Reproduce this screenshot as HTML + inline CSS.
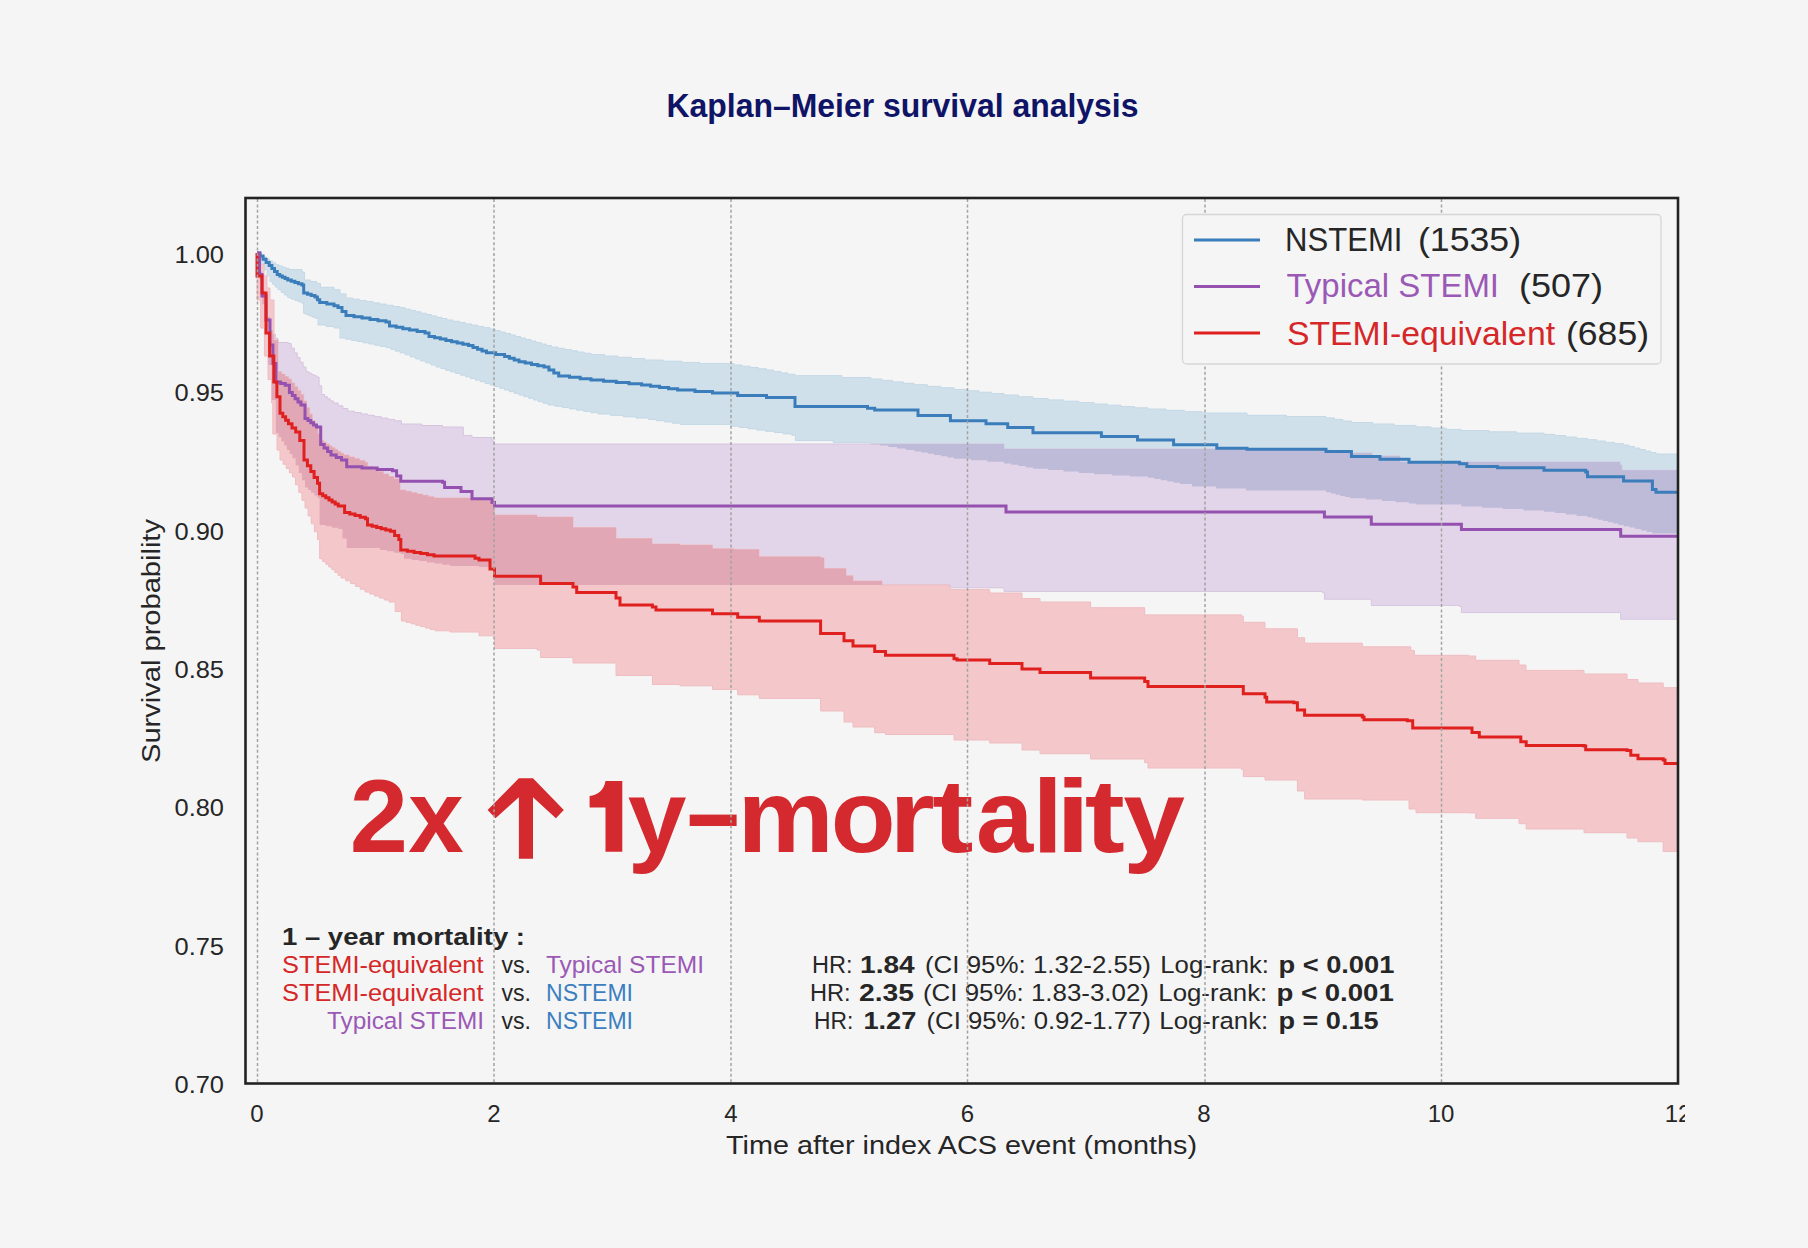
<!DOCTYPE html>
<html><head><meta charset="utf-8">
<style>
html,body{margin:0;padding:0;background:#f5f5f5;}
body{width:1808px;height:1248px;overflow:hidden;position:relative;}
svg{position:absolute;left:0;top:0;}
text{font-family:"Liberation Sans",sans-serif;}
</style></head>
<body>
<svg width="1808" height="1248" viewBox="0 0 1808 1248">
<defs>
<clipPath id="plot"><rect x="246" y="199" width="1432" height="884"/></clipPath>
<clipPath id="cpP"><path d="M257.0,253.0 259.5,253.0 259.5,271.5 262.0,271.5 262.0,290.0 264.7,290.0 264.7,303.3 267.3,303.3 267.3,316.7 270.0,316.7 270.0,330.0 272.7,330.0 272.7,334.2 275.3,334.2 275.3,338.3 278.0,338.3 278.0,342.5 288.4,342.5 288.4,343.5 291.3,343.5 291.3,348.2 294.3,348.2 294.3,352.9 297.2,352.9 297.2,357.6 300.1,357.6 300.1,362.3 303.1,362.3 303.1,367.0 306.0,367.0 306.0,371.7 308.6,371.7 308.6,373.0 311.2,373.0 311.2,374.4 313.9,374.4 313.9,375.7 316.5,375.7 316.5,377.0 319.1,377.0 319.1,385.8 321.7,385.8 321.7,394.6 324.6,394.6 324.6,396.7 327.4,396.7 327.4,398.8 330.3,398.8 330.3,400.9 333.2,400.9 333.2,403.0 338.1,403.0 338.1,405.8 342.9,405.8 342.9,408.5 347.8,408.5 347.8,411.2 354.4,411.2 354.4,412.6 361.1,412.6 361.1,414.0 367.8,414.0 367.8,415.3 374.5,415.3 374.5,416.7 381.2,416.7 381.2,418.1 387.9,418.1 387.9,419.4 394.6,419.4 394.6,420.8 401.4,420.8 401.4,424.0 421.9,424.0 421.9,425.5 442.5,425.5 442.5,427.0 463.3,427.0 463.3,435.4 472.0,435.4 472.0,437.5 492.0,437.5 492.0,441.0 494.5,441.0 494.5,444.0 950.0,444.0 950.0,444.0 1004.0,444.0 1004.0,449.0 1250.0,449.0 1250.0,450.0 1330.0,450.0 1330.0,453.0 1372.0,453.0 1372.0,456.0 1400.0,456.0 1400.0,462.0 1620.0,462.0 1620.0,465.0 1621.8,465.0 1621.8,470.3 1677.6,470.3 1677.6,470.3 L1677.6,619.2 1677.6,619.2 1620.7,619.2 1620.7,612.7 1620.0,612.7 1620.0,612.6 1461.4,612.6 1461.4,606.4 1459.6,606.4 1459.6,605.4 1371.3,605.4 1371.3,600.0 1371.3,600.0 1371.3,599.2 1324.4,599.2 1324.4,592.7 1322.6,592.7 1322.6,591.4 1004.0,591.4 1004.0,587.8 950.0,587.8 950.0,585.0 494.5,585.0 494.5,567.0 479.0,567.0 479.0,566.0 450.0,566.0 450.0,564.8 442.3,564.8 442.3,563.6 434.7,563.6 434.7,562.4 427.0,562.4 427.0,561.1 419.3,561.1 419.3,559.9 411.7,559.9 411.7,558.7 404.0,558.7 404.0,554.0 400.8,554.0 400.8,552.7 393.9,552.7 393.9,551.3 386.9,551.3 386.9,550.0 380.0,550.0 380.0,548.0 346.7,548.0 346.7,538.5 342.5,538.5 342.5,529.0 338.3,529.0 338.3,527.7 332.1,527.7 332.1,526.3 325.8,526.3 325.8,525.0 319.6,525.0 319.6,498.0 317.5,498.0 317.5,495.4 314.4,495.4 314.4,492.8 311.2,492.8 311.2,490.1 308.1,490.1 308.1,487.5 305.0,487.5 305.0,480.2 301.9,480.2 301.9,472.9 298.8,472.9 298.8,465.6 295.6,465.6 295.6,458.3 292.5,458.3 292.5,454.1 289.7,454.1 289.7,449.9 286.9,449.9 286.9,445.6 284.1,445.6 284.1,441.4 281.4,441.4 281.4,437.2 278.6,437.2 278.6,433.0 275.8,433.0 275.8,400.0 271.7,400.0 271.7,365.0 268.4,365.0 268.4,330.0 265.0,330.0 265.0,304.3 262.3,304.3 262.3,278.7 259.7,278.7 259.7,253.0 257.0,253.0 Z"/></clipPath>
<clipPath id="fig"><rect x="0" y="0" width="1685" height="1248"/></clipPath>
</defs>
<rect x="0" y="0" width="1808" height="1248" fill="#f5f5f5"/>
<!-- title -->
<text x="666.5" y="116.8" font-size="32.5" font-weight="bold" fill="#0f1466" textLength="472" lengthAdjust="spacingAndGlyphs">Kaplan–Meier survival analysis</text>

<g clip-path="url(#plot)">
<path id="bb" d="M257.0,253.0 260.1,253.0 260.1,255.0 263.2,255.0 263.2,256.9 266.3,256.9 266.3,258.9 269.4,258.9 269.4,260.9 272.5,260.9 272.5,262.8 275.6,262.8 275.6,264.8 279.0,264.8 279.0,266.0 282.5,266.0 282.5,267.2 285.9,267.2 285.9,268.4 289.3,268.4 289.3,269.6 302.0,269.6 302.0,272.0 304.5,272.0 304.5,280.0 310.5,280.0 310.5,281.6 316.5,281.6 316.5,283.3 320.5,283.3 320.5,287.3 334.0,287.3 334.0,289.7 340.0,289.7 340.0,293.9 346.0,293.9 346.0,298.0 352.8,298.0 352.8,299.2 359.5,299.2 359.5,300.4 366.2,300.4 366.2,301.6 373.0,301.6 373.0,302.9 379.8,302.9 379.8,304.1 386.5,304.1 386.5,305.3 393.2,305.3 393.2,306.5 400.0,306.5 400.0,307.7 405.2,307.7 405.2,309.1 410.4,309.1 410.4,310.4 415.7,310.4 415.7,311.8 420.9,311.8 420.9,313.2 426.1,313.2 426.1,314.5 431.3,314.5 431.3,315.9 436.6,315.9 436.6,317.3 441.8,317.3 441.8,318.6 447.0,318.6 447.0,320.0 453.1,320.0 453.1,321.3 459.3,321.3 459.3,322.6 465.4,322.6 465.4,323.9 471.6,323.9 471.6,325.1 477.7,325.1 477.7,326.4 483.9,326.4 483.9,327.7 490.0,327.7 490.0,329.0 495.1,329.0 495.1,330.5 500.2,330.5 500.2,332.0 505.4,332.0 505.4,333.5 510.5,333.5 510.5,335.0 515.6,335.0 515.6,336.5 520.7,336.5 520.7,338.0 525.8,338.0 525.8,339.5 530.9,339.5 530.9,341.0 536.0,341.0 536.0,342.5 541.2,342.5 541.2,344.0 546.3,344.0 546.3,345.5 551.4,345.5 551.4,347.0 558.0,347.0 558.0,348.3 564.6,348.3 564.6,349.5 571.2,349.5 571.2,350.8 577.8,350.8 577.8,352.1 584.4,352.1 584.4,353.3 591.0,353.3 591.0,354.6 604.5,354.6 604.5,356.0 618.0,356.0 618.0,357.3 631.5,357.3 631.5,358.6 645.0,358.6 645.0,360.0 663.3,360.0 663.3,361.2 681.7,361.2 681.7,362.4 700.0,362.4 700.0,363.6 734.0,363.6 734.0,365.0 742.1,365.0 742.1,366.2 750.2,366.2 750.2,367.5 758.4,367.5 758.4,368.8 766.5,368.8 766.5,370.0 773.6,370.0 773.6,371.4 780.8,371.4 780.8,372.9 787.9,372.9 787.9,374.3 795.0,374.3 795.0,375.7 842.0,375.7 842.0,377.5 871.0,377.5 871.0,379.0 881.8,379.0 881.8,380.4 892.5,380.4 892.5,381.9 903.2,381.9 903.2,383.3 914.0,383.3 914.0,384.7 927.3,384.7 927.3,386.3 940.7,386.3 940.7,387.8 954.0,387.8 954.0,389.4 966.5,389.4 966.5,390.8 979.0,390.8 979.0,392.2 991.5,392.2 991.5,393.6 1004.0,393.6 1004.0,395.0 1018.5,395.0 1018.5,396.8 1033.0,396.8 1033.0,398.5 1048.2,398.5 1048.2,399.9 1063.5,399.9 1063.5,401.2 1078.8,401.2 1078.8,402.6 1094.0,402.6 1094.0,404.0 1107.5,404.0 1107.5,405.2 1121.0,405.2 1121.0,406.5 1134.5,406.5 1134.5,407.8 1148.0,407.8 1148.0,409.0 1166.1,409.0 1166.1,410.3 1184.3,410.3 1184.3,411.7 1202.4,411.7 1202.4,413.0 1247.0,413.0 1247.0,415.3 1286.5,415.3 1286.5,416.6 1326.0,416.6 1326.0,417.9 1334.5,417.9 1334.5,419.4 1342.9,419.4 1342.9,421.0 1351.4,421.0 1351.4,422.5 1372.9,422.5 1372.9,424.0 1394.5,424.0 1394.5,425.4 1416.0,425.4 1416.0,426.9 1431.1,426.9 1431.1,428.1 1446.2,428.1 1446.2,429.4 1461.3,429.4 1461.3,430.6 1488.9,430.6 1488.9,431.8 1516.4,431.8 1516.4,433.1 1544.0,433.1 1544.0,434.3 1554.9,434.3 1554.9,435.6 1565.8,435.6 1565.8,437.0 1576.6,437.0 1576.6,438.4 1587.5,438.4 1587.5,439.7 1596.5,439.7 1596.5,441.0 1605.5,441.0 1605.5,442.4 1614.6,442.4 1614.6,443.7 1623.6,443.7 1623.6,445.0 1629.0,445.0 1629.0,446.5 1634.4,446.5 1634.4,448.0 1639.8,448.0 1639.8,449.5 1645.2,449.5 1645.2,451.0 1650.6,451.0 1650.6,452.5 1656.0,452.5 1656.0,454.0 1677.6,454.0 1677.6,454.8 L1677.6,534.0 1677.6,533.4 1652.4,533.4 1652.4,532.0 1646.6,532.0 1646.6,530.5 1640.9,530.5 1640.9,529.1 1635.1,529.1 1635.1,527.6 1629.4,527.6 1629.4,526.2 1623.6,526.2 1623.6,524.9 1618.4,524.9 1618.4,523.6 1613.3,523.6 1613.3,522.3 1608.1,522.3 1608.1,521.1 1603.0,521.1 1603.0,519.8 1597.8,519.8 1597.8,518.5 1592.7,518.5 1592.7,517.2 1587.5,517.2 1587.5,515.9 1576.6,515.9 1576.6,514.5 1565.8,514.5 1565.8,513.1 1554.9,513.1 1554.9,511.8 1544.0,511.8 1544.0,510.4 1523.3,510.4 1523.3,509.1 1502.7,509.1 1502.7,507.8 1482.0,507.8 1482.0,506.4 1461.3,506.4 1461.3,504.4 1416.0,504.4 1416.0,503.6 1409.0,503.6 1409.0,502.3 1395.5,502.3 1395.5,501.0 1382.0,501.0 1382.0,499.6 1366.0,499.6 1366.0,498.3 1350.0,498.3 1350.0,497.1 1345.2,497.1 1345.2,495.9 1340.4,495.9 1340.4,494.7 1335.6,494.7 1335.6,493.5 1330.8,493.5 1330.8,492.3 1326.0,492.3 1326.0,490.4 1246.0,490.4 1246.0,488.4 1216.0,488.4 1216.0,486.4 1192.0,486.4 1192.0,484.0 1180.0,484.0 1180.0,482.8 1173.6,482.8 1173.6,481.5 1167.2,481.5 1167.2,480.3 1160.8,480.3 1160.8,479.0 1154.4,479.0 1154.4,477.8 1148.0,477.8 1148.0,476.6 1130.0,476.6 1130.0,475.4 1112.0,475.4 1112.0,474.2 1094.0,474.2 1094.0,472.9 1078.8,472.9 1078.8,471.5 1063.5,471.5 1063.5,470.1 1048.2,470.1 1048.2,468.8 1033.0,468.8 1033.0,467.4 1025.8,467.4 1025.8,466.1 1018.5,466.1 1018.5,464.8 1011.2,464.8 1011.2,463.4 1004.0,463.4 1004.0,461.8 987.3,461.8 987.3,460.3 970.7,460.3 970.7,458.7 954.0,458.7 954.0,457.5 947.4,457.5 947.4,456.3 940.8,456.3 940.8,455.0 934.2,455.0 934.2,453.8 927.6,453.8 927.6,452.6 921.0,452.6 921.0,451.4 914.4,451.4 914.4,450.0 905.7,450.0 905.7,448.5 897.0,448.5 897.0,447.1 888.4,447.1 888.4,445.6 879.7,445.6 879.7,444.2 871.0,444.2 871.0,442.4 833.2,442.4 833.2,440.6 795.4,440.6 795.4,435.2 791.8,435.2 791.8,433.9 783.0,433.9 783.0,432.6 774.3,432.6 774.3,431.3 765.5,431.3 765.5,430.1 756.8,430.1 756.8,428.8 748.0,428.8 748.0,427.5 739.3,427.5 739.3,426.2 730.5,426.2 730.5,424.4 680.0,424.4 680.0,423.2 672.2,423.2 672.2,421.9 664.4,421.9 664.4,420.7 656.6,420.7 656.6,419.5 648.8,419.5 648.8,418.1 636.1,418.1 636.1,416.8 623.4,416.8 623.4,415.4 610.7,415.4 610.7,414.0 598.0,414.0 598.0,412.7 590.9,412.7 590.9,411.4 583.7,411.4 583.7,410.1 576.6,410.1 576.6,408.9 569.4,408.9 569.4,407.6 562.3,407.6 562.3,406.3 555.1,406.3 555.1,405.0 548.0,405.0 548.0,403.3 543.2,403.3 543.2,401.7 538.3,401.7 538.3,400.0 533.5,400.0 533.5,398.3 528.7,398.3 528.7,396.7 523.8,396.7 523.8,395.0 519.0,395.0 519.0,393.3 514.2,393.3 514.2,391.7 509.3,391.7 509.3,390.0 504.5,390.0 504.5,388.3 499.7,388.3 499.7,386.7 494.8,386.7 494.8,385.0 490.0,385.0 490.0,383.4 485.1,383.4 485.1,381.7 480.2,381.7 480.2,380.1 475.3,380.1 475.3,378.5 470.4,378.5 470.4,376.8 465.5,376.8 465.5,375.2 460.5,375.2 460.5,373.5 455.6,373.5 455.6,371.9 450.7,371.9 450.7,370.3 445.8,370.3 445.8,368.6 440.9,368.6 440.9,367.0 436.0,367.0 436.0,365.0 430.9,365.0 430.9,362.9 425.7,362.9 425.7,360.9 420.6,360.9 420.6,358.9 415.4,358.9 415.4,356.9 410.3,356.9 410.3,354.8 405.1,354.8 405.1,352.8 400.0,352.8 400.0,351.1 395.3,351.1 395.3,349.3 390.7,349.3 390.7,347.6 386.0,347.6 386.0,346.4 380.2,346.4 380.2,345.2 374.5,345.2 374.5,344.0 368.8,344.0 368.8,342.8 363.0,342.8 363.0,341.6 357.2,341.6 357.2,340.4 351.5,340.4 351.5,339.2 345.8,339.2 345.8,338.0 340.0,338.0 340.0,328.0 334.0,328.0 334.0,326.5 326.0,326.5 326.0,325.0 318.0,325.0 318.0,318.5 315.7,318.5 315.7,317.3 312.7,317.3 312.7,316.1 309.7,316.1 309.7,314.9 306.7,314.9 306.7,313.7 303.7,313.7 303.7,303.3 302.0,303.3 302.0,301.9 298.4,301.9 298.4,300.5 294.9,300.5 294.9,299.1 291.3,299.1 291.3,297.7 287.7,297.7 287.7,295.0 284.5,295.0 284.5,292.4 281.2,292.4 281.2,289.7 278.0,289.7 278.0,287.0 275.3,287.0 275.3,284.4 272.7,284.4 272.7,281.7 270.0,281.7 270.0,275.8 267.1,275.8 267.1,269.9 264.1,269.9 264.1,264.0 261.2,264.0 261.2,253.0 257.0,253.0 Z" fill="#cfe0ea" stroke="#c4d8e6" stroke-width="1"/>
<path id="bp" d="M257.0,253.0 259.5,253.0 259.5,271.5 262.0,271.5 262.0,290.0 264.7,290.0 264.7,303.3 267.3,303.3 267.3,316.7 270.0,316.7 270.0,330.0 272.7,330.0 272.7,334.2 275.3,334.2 275.3,338.3 278.0,338.3 278.0,342.5 288.4,342.5 288.4,343.5 291.3,343.5 291.3,348.2 294.3,348.2 294.3,352.9 297.2,352.9 297.2,357.6 300.1,357.6 300.1,362.3 303.1,362.3 303.1,367.0 306.0,367.0 306.0,371.7 308.6,371.7 308.6,373.0 311.2,373.0 311.2,374.4 313.9,374.4 313.9,375.7 316.5,375.7 316.5,377.0 319.1,377.0 319.1,385.8 321.7,385.8 321.7,394.6 324.6,394.6 324.6,396.7 327.4,396.7 327.4,398.8 330.3,398.8 330.3,400.9 333.2,400.9 333.2,403.0 338.1,403.0 338.1,405.8 342.9,405.8 342.9,408.5 347.8,408.5 347.8,411.2 354.4,411.2 354.4,412.6 361.1,412.6 361.1,414.0 367.8,414.0 367.8,415.3 374.5,415.3 374.5,416.7 381.2,416.7 381.2,418.1 387.9,418.1 387.9,419.4 394.6,419.4 394.6,420.8 401.4,420.8 401.4,424.0 421.9,424.0 421.9,425.5 442.5,425.5 442.5,427.0 463.3,427.0 463.3,435.4 472.0,435.4 472.0,437.5 492.0,437.5 492.0,441.0 494.5,441.0 494.5,444.0 950.0,444.0 950.0,444.0 1004.0,444.0 1004.0,449.0 1250.0,449.0 1250.0,450.0 1330.0,450.0 1330.0,453.0 1372.0,453.0 1372.0,456.0 1400.0,456.0 1400.0,462.0 1620.0,462.0 1620.0,465.0 1621.8,465.0 1621.8,470.3 1677.6,470.3 1677.6,470.3 L1677.6,619.2 1677.6,619.2 1620.7,619.2 1620.7,612.7 1620.0,612.7 1620.0,612.6 1461.4,612.6 1461.4,606.4 1459.6,606.4 1459.6,605.4 1371.3,605.4 1371.3,600.0 1371.3,600.0 1371.3,599.2 1324.4,599.2 1324.4,592.7 1322.6,592.7 1322.6,591.4 1004.0,591.4 1004.0,587.8 950.0,587.8 950.0,585.0 494.5,585.0 494.5,567.0 479.0,567.0 479.0,566.0 450.0,566.0 450.0,564.8 442.3,564.8 442.3,563.6 434.7,563.6 434.7,562.4 427.0,562.4 427.0,561.1 419.3,561.1 419.3,559.9 411.7,559.9 411.7,558.7 404.0,558.7 404.0,554.0 400.8,554.0 400.8,552.7 393.9,552.7 393.9,551.3 386.9,551.3 386.9,550.0 380.0,550.0 380.0,548.0 346.7,548.0 346.7,538.5 342.5,538.5 342.5,529.0 338.3,529.0 338.3,527.7 332.1,527.7 332.1,526.3 325.8,526.3 325.8,525.0 319.6,525.0 319.6,498.0 317.5,498.0 317.5,495.4 314.4,495.4 314.4,492.8 311.2,492.8 311.2,490.1 308.1,490.1 308.1,487.5 305.0,487.5 305.0,480.2 301.9,480.2 301.9,472.9 298.8,472.9 298.8,465.6 295.6,465.6 295.6,458.3 292.5,458.3 292.5,454.1 289.7,454.1 289.7,449.9 286.9,449.9 286.9,445.6 284.1,445.6 284.1,441.4 281.4,441.4 281.4,437.2 278.6,437.2 278.6,433.0 275.8,433.0 275.8,400.0 271.7,400.0 271.7,365.0 268.4,365.0 268.4,330.0 265.0,330.0 265.0,304.3 262.3,304.3 262.3,278.7 259.7,278.7 259.7,253.0 257.0,253.0 Z" fill="#e3d5e9" stroke="#d6c4df" stroke-width="1"/>
<path id="br" d="M257.0,253.0 260.5,253.0 260.5,264.5 264.0,264.5 264.0,276.0 267.0,276.0 267.0,288.0 270.0,288.0 270.0,300.0 274.0,300.0 274.0,340.0 278.0,340.0 278.0,371.7 281.5,371.7 281.5,374.1 284.9,374.1 284.9,376.6 288.4,376.6 288.4,379.0 291.5,379.0 291.5,382.9 294.6,382.9 294.6,386.8 297.8,386.8 297.8,390.7 300.9,390.7 300.9,394.6 303.7,394.6 303.7,401.1 306.6,401.1 306.6,407.7 309.4,407.7 309.4,414.2 312.2,414.2 312.2,420.8 315.0,420.8 315.0,427.3 317.9,427.3 317.9,433.9 320.7,433.9 320.7,440.4 323.6,440.4 323.6,442.2 326.4,442.2 326.4,444.0 329.3,444.0 329.3,445.9 332.1,445.9 332.1,447.7 335.0,447.7 335.0,449.5 337.9,449.5 337.9,451.4 340.7,451.4 340.7,453.2 343.6,453.2 343.6,455.0 349.0,455.0 349.0,456.9 354.3,456.9 354.3,458.8 359.6,458.8 359.6,460.6 365.0,460.6 365.0,462.5 367.5,462.5 367.5,466.7 372.8,466.7 372.8,469.2 378.1,469.2 378.1,471.6 383.4,471.6 383.4,474.1 388.7,474.1 388.7,476.5 394.0,476.5 394.0,479.0 400.0,479.0 400.0,490.0 405.7,490.0 405.7,491.3 411.3,491.3 411.3,492.7 417.0,492.7 417.0,494.0 422.7,494.0 422.7,495.3 428.3,495.3 428.3,496.7 434.0,496.7 434.0,498.0 475.0,498.0 475.0,500.0 490.0,500.0 490.0,500.0 494.5,500.0 494.5,515.0 537.0,515.0 537.0,517.0 573.0,517.0 573.0,527.6 616.0,527.6 616.0,538.5 652.0,538.5 652.0,544.0 680.0,544.0 680.0,545.0 712.5,545.0 712.5,548.8 734.0,548.8 734.0,549.5 759.0,549.5 759.0,556.7 820.6,556.7 820.6,557.8 824.0,557.8 824.0,568.6 846.0,568.6 846.0,575.8 853.0,575.8 853.0,581.0 882.0,581.0 882.0,585.0 950.0,585.0 950.0,589.6 989.7,589.6 989.7,593.0 1022.0,593.0 1022.0,598.6 1040.0,598.6 1040.0,602.0 1090.6,602.0 1090.6,607.7 1144.7,607.7 1144.7,614.9 1241.5,614.9 1241.5,616.2 1243.3,616.2 1243.3,622.3 1265.0,622.3 1265.0,628.8 1297.4,628.8 1297.4,637.8 1304.6,637.8 1304.6,643.2 1362.3,643.2 1362.3,646.8 1410.8,646.8 1410.8,650.6 1414.4,650.6 1414.4,655.3 1468.5,655.3 1468.5,656.0 1475.7,656.0 1475.7,660.3 1519.0,660.3 1519.0,665.0 1526.0,665.0 1526.0,670.4 1584.0,670.4 1584.0,674.0 1627.0,674.0 1627.0,679.5 1638.0,679.5 1638.0,683.0 1663.2,683.0 1663.2,687.7 1677.6,687.7 1677.6,687.7 L1677.6,851.5 1677.6,851.5 1663.2,851.5 1663.2,841.7 1638.0,841.7 1638.0,838.0 1627.0,838.0 1627.0,832.7 1584.0,832.7 1584.0,829.0 1526.2,829.0 1526.2,823.7 1519.0,823.7 1519.0,818.3 1475.7,818.3 1475.7,812.9 1468.5,812.9 1468.5,812.7 1416.0,812.7 1416.0,809.0 1409.0,809.0 1409.0,800.0 1362.3,800.0 1362.3,799.0 1304.6,799.0 1304.6,791.0 1297.4,791.0 1297.4,780.0 1265.0,780.0 1265.0,776.6 1243.3,776.6 1243.3,769.4 1241.5,769.4 1241.5,768.0 1148.0,768.0 1148.0,762.7 1144.7,762.7 1144.7,759.0 1090.6,759.0 1090.6,753.7 1040.0,753.7 1040.0,750.0 1022.0,750.0 1022.0,743.0 989.7,743.0 989.7,740.0 954.0,740.0 954.0,734.5 885.5,734.5 885.5,732.7 874.7,732.7 874.7,727.0 853.0,727.0 853.0,722.0 844.0,722.0 844.0,711.0 820.6,711.0 820.6,698.4 759.3,698.4 759.3,694.8 737.7,694.8 737.7,689.4 712.5,689.4 712.5,685.8 680.0,685.8 680.0,684.5 652.4,684.5 652.4,675.5 616.0,675.5 616.0,663.0 573.0,663.0 573.0,657.5 540.6,657.5 540.6,650.0 537.0,650.0 537.0,648.4 494.5,648.4 494.5,635.8 479.0,635.8 479.0,632.0 450.0,632.0 450.0,630.8 435.0,630.8 435.0,629.4 430.2,629.4 430.2,628.0 425.4,628.0 425.4,626.6 420.6,626.6 420.6,625.2 415.8,625.2 415.8,623.8 411.0,623.8 411.0,622.4 406.2,622.4 406.2,621.0 401.4,621.0 401.4,611.5 395.2,611.5 395.2,602.0 389.0,602.0 389.0,600.0 384.2,600.0 384.2,598.0 379.4,598.0 379.4,596.0 374.6,596.0 374.6,594.0 369.8,594.0 369.8,592.0 365.0,592.0 365.0,589.2 360.2,589.2 360.2,586.4 355.4,586.4 355.4,583.6 350.6,583.6 350.6,580.8 345.8,580.8 345.8,578.0 341.0,578.0 341.0,575.2 338.0,575.2 338.0,572.5 334.9,572.5 334.9,569.7 331.9,569.7 331.9,567.0 328.8,567.0 328.8,564.2 325.8,564.2 325.8,561.5 322.7,561.5 322.7,558.7 319.7,558.7 319.7,539.6 317.5,539.6 317.5,531.7 314.4,531.7 314.4,523.8 311.2,523.8 311.2,515.9 308.1,515.9 308.1,508.0 305.0,508.0 305.0,500.2 301.9,500.2 301.9,492.5 298.8,492.5 298.8,484.8 295.6,484.8 295.6,477.0 292.5,477.0 292.5,472.8 289.4,472.8 289.4,468.5 286.2,468.5 286.2,464.2 283.1,464.2 283.1,460.0 280.0,460.0 280.0,450.0 277.0,450.0 277.0,434.0 272.8,434.0 272.8,403.0 271.7,403.0 271.7,379.5 268.0,379.5 268.0,356.0 264.4,356.0 264.4,328.0 260.7,328.0 260.7,300.0 257.0,300.0 257.0,253.0 257.0,253.0 Z" fill="#f4c8cb" stroke="#eebcc1" stroke-width="1"/>
<path d="M257.0,253.0 260.5,253.0 260.5,264.5 264.0,264.5 264.0,276.0 267.0,276.0 267.0,288.0 270.0,288.0 270.0,300.0 274.0,300.0 274.0,340.0 278.0,340.0 278.0,371.7 281.5,371.7 281.5,374.1 284.9,374.1 284.9,376.6 288.4,376.6 288.4,379.0 291.5,379.0 291.5,382.9 294.6,382.9 294.6,386.8 297.8,386.8 297.8,390.7 300.9,390.7 300.9,394.6 303.7,394.6 303.7,401.1 306.6,401.1 306.6,407.7 309.4,407.7 309.4,414.2 312.2,414.2 312.2,420.8 315.0,420.8 315.0,427.3 317.9,427.3 317.9,433.9 320.7,433.9 320.7,440.4 323.6,440.4 323.6,442.2 326.4,442.2 326.4,444.0 329.3,444.0 329.3,445.9 332.1,445.9 332.1,447.7 335.0,447.7 335.0,449.5 337.9,449.5 337.9,451.4 340.7,451.4 340.7,453.2 343.6,453.2 343.6,455.0 349.0,455.0 349.0,456.9 354.3,456.9 354.3,458.8 359.6,458.8 359.6,460.6 365.0,460.6 365.0,462.5 367.5,462.5 367.5,466.7 372.8,466.7 372.8,469.2 378.1,469.2 378.1,471.6 383.4,471.6 383.4,474.1 388.7,474.1 388.7,476.5 394.0,476.5 394.0,479.0 400.0,479.0 400.0,490.0 405.7,490.0 405.7,491.3 411.3,491.3 411.3,492.7 417.0,492.7 417.0,494.0 422.7,494.0 422.7,495.3 428.3,495.3 428.3,496.7 434.0,496.7 434.0,498.0 475.0,498.0 475.0,500.0 490.0,500.0 490.0,500.0 494.5,500.0 494.5,515.0 537.0,515.0 537.0,517.0 573.0,517.0 573.0,527.6 616.0,527.6 616.0,538.5 652.0,538.5 652.0,544.0 680.0,544.0 680.0,545.0 712.5,545.0 712.5,548.8 734.0,548.8 734.0,549.5 759.0,549.5 759.0,556.7 820.6,556.7 820.6,557.8 824.0,557.8 824.0,568.6 846.0,568.6 846.0,575.8 853.0,575.8 853.0,581.0 882.0,581.0 882.0,585.0 950.0,585.0 950.0,589.6 989.7,589.6 989.7,593.0 1022.0,593.0 1022.0,598.6 1040.0,598.6 1040.0,602.0 1090.6,602.0 1090.6,607.7 1144.7,607.7 1144.7,614.9 1241.5,614.9 1241.5,616.2 1243.3,616.2 1243.3,622.3 1265.0,622.3 1265.0,628.8 1297.4,628.8 1297.4,637.8 1304.6,637.8 1304.6,643.2 1362.3,643.2 1362.3,646.8 1410.8,646.8 1410.8,650.6 1414.4,650.6 1414.4,655.3 1468.5,655.3 1468.5,656.0 1475.7,656.0 1475.7,660.3 1519.0,660.3 1519.0,665.0 1526.0,665.0 1526.0,670.4 1584.0,670.4 1584.0,674.0 1627.0,674.0 1627.0,679.5 1638.0,679.5 1638.0,683.0 1663.2,683.0 1663.2,687.7 1677.6,687.7 1677.6,687.7 L1677.6,851.5 1677.6,851.5 1663.2,851.5 1663.2,841.7 1638.0,841.7 1638.0,838.0 1627.0,838.0 1627.0,832.7 1584.0,832.7 1584.0,829.0 1526.2,829.0 1526.2,823.7 1519.0,823.7 1519.0,818.3 1475.7,818.3 1475.7,812.9 1468.5,812.9 1468.5,812.7 1416.0,812.7 1416.0,809.0 1409.0,809.0 1409.0,800.0 1362.3,800.0 1362.3,799.0 1304.6,799.0 1304.6,791.0 1297.4,791.0 1297.4,780.0 1265.0,780.0 1265.0,776.6 1243.3,776.6 1243.3,769.4 1241.5,769.4 1241.5,768.0 1148.0,768.0 1148.0,762.7 1144.7,762.7 1144.7,759.0 1090.6,759.0 1090.6,753.7 1040.0,753.7 1040.0,750.0 1022.0,750.0 1022.0,743.0 989.7,743.0 989.7,740.0 954.0,740.0 954.0,734.5 885.5,734.5 885.5,732.7 874.7,732.7 874.7,727.0 853.0,727.0 853.0,722.0 844.0,722.0 844.0,711.0 820.6,711.0 820.6,698.4 759.3,698.4 759.3,694.8 737.7,694.8 737.7,689.4 712.5,689.4 712.5,685.8 680.0,685.8 680.0,684.5 652.4,684.5 652.4,675.5 616.0,675.5 616.0,663.0 573.0,663.0 573.0,657.5 540.6,657.5 540.6,650.0 537.0,650.0 537.0,648.4 494.5,648.4 494.5,635.8 479.0,635.8 479.0,632.0 450.0,632.0 450.0,630.8 435.0,630.8 435.0,629.4 430.2,629.4 430.2,628.0 425.4,628.0 425.4,626.6 420.6,626.6 420.6,625.2 415.8,625.2 415.8,623.8 411.0,623.8 411.0,622.4 406.2,622.4 406.2,621.0 401.4,621.0 401.4,611.5 395.2,611.5 395.2,602.0 389.0,602.0 389.0,600.0 384.2,600.0 384.2,598.0 379.4,598.0 379.4,596.0 374.6,596.0 374.6,594.0 369.8,594.0 369.8,592.0 365.0,592.0 365.0,589.2 360.2,589.2 360.2,586.4 355.4,586.4 355.4,583.6 350.6,583.6 350.6,580.8 345.8,580.8 345.8,578.0 341.0,578.0 341.0,575.2 338.0,575.2 338.0,572.5 334.9,572.5 334.9,569.7 331.9,569.7 331.9,567.0 328.8,567.0 328.8,564.2 325.8,564.2 325.8,561.5 322.7,561.5 322.7,558.7 319.7,558.7 319.7,539.6 317.5,539.6 317.5,531.7 314.4,531.7 314.4,523.8 311.2,523.8 311.2,515.9 308.1,515.9 308.1,508.0 305.0,508.0 305.0,500.2 301.9,500.2 301.9,492.5 298.8,492.5 298.8,484.8 295.6,484.8 295.6,477.0 292.5,477.0 292.5,472.8 289.4,472.8 289.4,468.5 286.2,468.5 286.2,464.2 283.1,464.2 283.1,460.0 280.0,460.0 280.0,450.0 277.0,450.0 277.0,434.0 272.8,434.0 272.8,403.0 271.7,403.0 271.7,379.5 268.0,379.5 268.0,356.0 264.4,356.0 264.4,328.0 260.7,328.0 260.7,300.0 257.0,300.0 257.0,253.0 257.0,253.0 Z" fill="#e1a7b5" clip-path="url(#cpP)"/>
<path d="M257.0,253.0 260.1,253.0 260.1,255.0 263.2,255.0 263.2,256.9 266.3,256.9 266.3,258.9 269.4,258.9 269.4,260.9 272.5,260.9 272.5,262.8 275.6,262.8 275.6,264.8 279.0,264.8 279.0,266.0 282.5,266.0 282.5,267.2 285.9,267.2 285.9,268.4 289.3,268.4 289.3,269.6 302.0,269.6 302.0,272.0 304.5,272.0 304.5,280.0 310.5,280.0 310.5,281.6 316.5,281.6 316.5,283.3 320.5,283.3 320.5,287.3 334.0,287.3 334.0,289.7 340.0,289.7 340.0,293.9 346.0,293.9 346.0,298.0 352.8,298.0 352.8,299.2 359.5,299.2 359.5,300.4 366.2,300.4 366.2,301.6 373.0,301.6 373.0,302.9 379.8,302.9 379.8,304.1 386.5,304.1 386.5,305.3 393.2,305.3 393.2,306.5 400.0,306.5 400.0,307.7 405.2,307.7 405.2,309.1 410.4,309.1 410.4,310.4 415.7,310.4 415.7,311.8 420.9,311.8 420.9,313.2 426.1,313.2 426.1,314.5 431.3,314.5 431.3,315.9 436.6,315.9 436.6,317.3 441.8,317.3 441.8,318.6 447.0,318.6 447.0,320.0 453.1,320.0 453.1,321.3 459.3,321.3 459.3,322.6 465.4,322.6 465.4,323.9 471.6,323.9 471.6,325.1 477.7,325.1 477.7,326.4 483.9,326.4 483.9,327.7 490.0,327.7 490.0,329.0 495.1,329.0 495.1,330.5 500.2,330.5 500.2,332.0 505.4,332.0 505.4,333.5 510.5,333.5 510.5,335.0 515.6,335.0 515.6,336.5 520.7,336.5 520.7,338.0 525.8,338.0 525.8,339.5 530.9,339.5 530.9,341.0 536.0,341.0 536.0,342.5 541.2,342.5 541.2,344.0 546.3,344.0 546.3,345.5 551.4,345.5 551.4,347.0 558.0,347.0 558.0,348.3 564.6,348.3 564.6,349.5 571.2,349.5 571.2,350.8 577.8,350.8 577.8,352.1 584.4,352.1 584.4,353.3 591.0,353.3 591.0,354.6 604.5,354.6 604.5,356.0 618.0,356.0 618.0,357.3 631.5,357.3 631.5,358.6 645.0,358.6 645.0,360.0 663.3,360.0 663.3,361.2 681.7,361.2 681.7,362.4 700.0,362.4 700.0,363.6 734.0,363.6 734.0,365.0 742.1,365.0 742.1,366.2 750.2,366.2 750.2,367.5 758.4,367.5 758.4,368.8 766.5,368.8 766.5,370.0 773.6,370.0 773.6,371.4 780.8,371.4 780.8,372.9 787.9,372.9 787.9,374.3 795.0,374.3 795.0,375.7 842.0,375.7 842.0,377.5 871.0,377.5 871.0,379.0 881.8,379.0 881.8,380.4 892.5,380.4 892.5,381.9 903.2,381.9 903.2,383.3 914.0,383.3 914.0,384.7 927.3,384.7 927.3,386.3 940.7,386.3 940.7,387.8 954.0,387.8 954.0,389.4 966.5,389.4 966.5,390.8 979.0,390.8 979.0,392.2 991.5,392.2 991.5,393.6 1004.0,393.6 1004.0,395.0 1018.5,395.0 1018.5,396.8 1033.0,396.8 1033.0,398.5 1048.2,398.5 1048.2,399.9 1063.5,399.9 1063.5,401.2 1078.8,401.2 1078.8,402.6 1094.0,402.6 1094.0,404.0 1107.5,404.0 1107.5,405.2 1121.0,405.2 1121.0,406.5 1134.5,406.5 1134.5,407.8 1148.0,407.8 1148.0,409.0 1166.1,409.0 1166.1,410.3 1184.3,410.3 1184.3,411.7 1202.4,411.7 1202.4,413.0 1247.0,413.0 1247.0,415.3 1286.5,415.3 1286.5,416.6 1326.0,416.6 1326.0,417.9 1334.5,417.9 1334.5,419.4 1342.9,419.4 1342.9,421.0 1351.4,421.0 1351.4,422.5 1372.9,422.5 1372.9,424.0 1394.5,424.0 1394.5,425.4 1416.0,425.4 1416.0,426.9 1431.1,426.9 1431.1,428.1 1446.2,428.1 1446.2,429.4 1461.3,429.4 1461.3,430.6 1488.9,430.6 1488.9,431.8 1516.4,431.8 1516.4,433.1 1544.0,433.1 1544.0,434.3 1554.9,434.3 1554.9,435.6 1565.8,435.6 1565.8,437.0 1576.6,437.0 1576.6,438.4 1587.5,438.4 1587.5,439.7 1596.5,439.7 1596.5,441.0 1605.5,441.0 1605.5,442.4 1614.6,442.4 1614.6,443.7 1623.6,443.7 1623.6,445.0 1629.0,445.0 1629.0,446.5 1634.4,446.5 1634.4,448.0 1639.8,448.0 1639.8,449.5 1645.2,449.5 1645.2,451.0 1650.6,451.0 1650.6,452.5 1656.0,452.5 1656.0,454.0 1677.6,454.0 1677.6,454.8 L1677.6,534.0 1677.6,533.4 1652.4,533.4 1652.4,532.0 1646.6,532.0 1646.6,530.5 1640.9,530.5 1640.9,529.1 1635.1,529.1 1635.1,527.6 1629.4,527.6 1629.4,526.2 1623.6,526.2 1623.6,524.9 1618.4,524.9 1618.4,523.6 1613.3,523.6 1613.3,522.3 1608.1,522.3 1608.1,521.1 1603.0,521.1 1603.0,519.8 1597.8,519.8 1597.8,518.5 1592.7,518.5 1592.7,517.2 1587.5,517.2 1587.5,515.9 1576.6,515.9 1576.6,514.5 1565.8,514.5 1565.8,513.1 1554.9,513.1 1554.9,511.8 1544.0,511.8 1544.0,510.4 1523.3,510.4 1523.3,509.1 1502.7,509.1 1502.7,507.8 1482.0,507.8 1482.0,506.4 1461.3,506.4 1461.3,504.4 1416.0,504.4 1416.0,503.6 1409.0,503.6 1409.0,502.3 1395.5,502.3 1395.5,501.0 1382.0,501.0 1382.0,499.6 1366.0,499.6 1366.0,498.3 1350.0,498.3 1350.0,497.1 1345.2,497.1 1345.2,495.9 1340.4,495.9 1340.4,494.7 1335.6,494.7 1335.6,493.5 1330.8,493.5 1330.8,492.3 1326.0,492.3 1326.0,490.4 1246.0,490.4 1246.0,488.4 1216.0,488.4 1216.0,486.4 1192.0,486.4 1192.0,484.0 1180.0,484.0 1180.0,482.8 1173.6,482.8 1173.6,481.5 1167.2,481.5 1167.2,480.3 1160.8,480.3 1160.8,479.0 1154.4,479.0 1154.4,477.8 1148.0,477.8 1148.0,476.6 1130.0,476.6 1130.0,475.4 1112.0,475.4 1112.0,474.2 1094.0,474.2 1094.0,472.9 1078.8,472.9 1078.8,471.5 1063.5,471.5 1063.5,470.1 1048.2,470.1 1048.2,468.8 1033.0,468.8 1033.0,467.4 1025.8,467.4 1025.8,466.1 1018.5,466.1 1018.5,464.8 1011.2,464.8 1011.2,463.4 1004.0,463.4 1004.0,461.8 987.3,461.8 987.3,460.3 970.7,460.3 970.7,458.7 954.0,458.7 954.0,457.5 947.4,457.5 947.4,456.3 940.8,456.3 940.8,455.0 934.2,455.0 934.2,453.8 927.6,453.8 927.6,452.6 921.0,452.6 921.0,451.4 914.4,451.4 914.4,450.0 905.7,450.0 905.7,448.5 897.0,448.5 897.0,447.1 888.4,447.1 888.4,445.6 879.7,445.6 879.7,444.2 871.0,444.2 871.0,442.4 833.2,442.4 833.2,440.6 795.4,440.6 795.4,435.2 791.8,435.2 791.8,433.9 783.0,433.9 783.0,432.6 774.3,432.6 774.3,431.3 765.5,431.3 765.5,430.1 756.8,430.1 756.8,428.8 748.0,428.8 748.0,427.5 739.3,427.5 739.3,426.2 730.5,426.2 730.5,424.4 680.0,424.4 680.0,423.2 672.2,423.2 672.2,421.9 664.4,421.9 664.4,420.7 656.6,420.7 656.6,419.5 648.8,419.5 648.8,418.1 636.1,418.1 636.1,416.8 623.4,416.8 623.4,415.4 610.7,415.4 610.7,414.0 598.0,414.0 598.0,412.7 590.9,412.7 590.9,411.4 583.7,411.4 583.7,410.1 576.6,410.1 576.6,408.9 569.4,408.9 569.4,407.6 562.3,407.6 562.3,406.3 555.1,406.3 555.1,405.0 548.0,405.0 548.0,403.3 543.2,403.3 543.2,401.7 538.3,401.7 538.3,400.0 533.5,400.0 533.5,398.3 528.7,398.3 528.7,396.7 523.8,396.7 523.8,395.0 519.0,395.0 519.0,393.3 514.2,393.3 514.2,391.7 509.3,391.7 509.3,390.0 504.5,390.0 504.5,388.3 499.7,388.3 499.7,386.7 494.8,386.7 494.8,385.0 490.0,385.0 490.0,383.4 485.1,383.4 485.1,381.7 480.2,381.7 480.2,380.1 475.3,380.1 475.3,378.5 470.4,378.5 470.4,376.8 465.5,376.8 465.5,375.2 460.5,375.2 460.5,373.5 455.6,373.5 455.6,371.9 450.7,371.9 450.7,370.3 445.8,370.3 445.8,368.6 440.9,368.6 440.9,367.0 436.0,367.0 436.0,365.0 430.9,365.0 430.9,362.9 425.7,362.9 425.7,360.9 420.6,360.9 420.6,358.9 415.4,358.9 415.4,356.9 410.3,356.9 410.3,354.8 405.1,354.8 405.1,352.8 400.0,352.8 400.0,351.1 395.3,351.1 395.3,349.3 390.7,349.3 390.7,347.6 386.0,347.6 386.0,346.4 380.2,346.4 380.2,345.2 374.5,345.2 374.5,344.0 368.8,344.0 368.8,342.8 363.0,342.8 363.0,341.6 357.2,341.6 357.2,340.4 351.5,340.4 351.5,339.2 345.8,339.2 345.8,338.0 340.0,338.0 340.0,328.0 334.0,328.0 334.0,326.5 326.0,326.5 326.0,325.0 318.0,325.0 318.0,318.5 315.7,318.5 315.7,317.3 312.7,317.3 312.7,316.1 309.7,316.1 309.7,314.9 306.7,314.9 306.7,313.7 303.7,313.7 303.7,303.3 302.0,303.3 302.0,301.9 298.4,301.9 298.4,300.5 294.9,300.5 294.9,299.1 291.3,299.1 291.3,297.7 287.7,297.7 287.7,295.0 284.5,295.0 284.5,292.4 281.2,292.4 281.2,289.7 278.0,289.7 278.0,287.0 275.3,287.0 275.3,284.4 272.7,284.4 272.7,281.7 270.0,281.7 270.0,275.8 267.1,275.8 267.1,269.9 264.1,269.9 264.1,264.0 261.2,264.0 261.2,253.0 257.0,253.0 Z" fill="#bebbd9" clip-path="url(#cpP)"/>
<path d="M257.0,253.0 260.1,253.0 260.1,256.1 263.1,256.1 263.1,259.3 266.1,259.3 266.1,262.5 269.2,262.5 269.2,265.6 271.9,265.6 271.9,268.6 274.5,268.6 274.5,271.5 277.2,271.5 277.2,274.5 279.8,274.5 279.8,275.9 282.4,275.9 282.4,277.2 285.1,277.2 285.1,278.6 287.7,278.6 287.7,280.0 291.3,280.0 291.3,281.2 294.9,281.2 294.9,282.4 298.4,282.4 298.4,283.7 302.0,283.7 302.0,284.9 303.7,284.9 303.7,292.9 307.5,292.9 307.5,294.3 311.2,294.3 311.2,295.6 315.0,295.6 315.0,297.0 317.4,297.0 317.4,299.8 319.7,299.8 319.7,302.5 326.9,302.5 326.9,304.1 334.0,304.1 334.0,305.7 338.0,305.7 338.0,307.5 342.0,307.5 342.0,311.5 346.0,311.5 346.0,315.5 354.0,315.5 354.0,316.8 362.0,316.8 362.0,318.1 370.0,318.1 370.0,319.4 378.0,319.4 378.0,320.7 386.0,320.7 386.0,322.0 389.5,322.0 389.5,326.0 396.2,326.0 396.2,327.3 402.8,327.3 402.8,328.7 409.5,328.7 409.5,330.0 417.2,330.0 417.2,331.5 425.0,331.5 425.0,333.0 429.0,333.0 429.0,336.5 434.6,336.5 434.6,337.8 440.3,337.8 440.3,339.1 445.9,339.1 445.9,340.4 451.6,340.4 451.6,341.7 457.2,341.7 457.2,343.0 462.9,343.0 462.9,344.3 468.5,344.3 468.5,345.6 473.0,345.6 473.0,347.4 477.5,347.4 477.5,349.2 482.0,349.2 482.0,351.0 486.5,351.0 486.5,352.8 495.6,352.8 495.6,354.6 504.6,354.6 504.6,356.4 509.4,356.4 509.4,358.2 514.2,358.2 514.2,360.0 519.0,360.0 519.0,361.8 525.2,361.8 525.2,363.1 531.5,363.1 531.5,364.4 537.8,364.4 537.8,365.7 544.0,365.7 544.0,367.0 548.9,367.0 548.9,370.0 553.8,370.0 553.8,373.0 558.7,373.0 558.7,376.0 569.5,376.0 569.5,377.3 580.2,377.3 580.2,378.7 591.0,378.7 591.0,380.0 603.6,380.0 603.6,381.2 616.3,381.2 616.3,382.5 629.0,382.5 629.0,383.8 641.6,383.8 641.6,385.0 650.6,385.0 650.6,386.2 659.6,386.2 659.6,387.5 668.6,387.5 668.6,388.8 677.6,388.8 677.6,390.0 695.0,390.0 695.0,391.5 712.5,391.5 712.5,393.0 737.7,393.0 737.7,395.6 766.5,395.6 766.5,397.4 795.0,397.4 795.0,406.4 867.5,406.4 867.5,408.2 874.7,408.2 874.7,410.0 918.0,410.0 918.0,415.4 950.4,415.4 950.4,420.8 986.0,420.8 986.0,423.8 1007.7,423.8 1007.7,427.4 1033.0,427.4 1033.0,432.8 1101.4,432.8 1101.4,436.4 1137.5,436.4 1137.5,440.0 1173.6,440.0 1173.6,444.7 1216.8,444.7 1216.8,448.3 1247.0,448.3 1247.0,449.2 1326.0,449.2 1326.0,451.4 1351.4,451.4 1351.4,456.4 1380.0,456.4 1380.0,459.3 1409.0,459.3 1409.0,462.2 1459.6,462.2 1459.6,463.7 1466.8,463.7 1466.8,466.5 1497.4,466.5 1497.4,467.8 1544.0,467.8 1544.0,470.3 1585.7,470.3 1585.7,472.0 1587.5,472.0 1587.5,476.8 1623.6,476.8 1623.6,481.0 1652.4,481.0 1652.4,489.4 1656.0,489.4 1656.0,492.3 1677.6,492.3 1677.6,492.3" fill="none" stroke="#3a7dba" stroke-width="3"/>
<path d="M257.0,253.0 259.5,253.0 259.5,274.5 262.0,274.5 262.0,296.0 266.0,296.0 266.0,320.0 270.0,320.0 270.0,345.0 272.9,345.0 272.9,363.5 275.9,363.5 275.9,382.0 280.6,382.0 280.6,383.6 285.2,383.6 285.2,385.2 289.4,385.2 289.4,392.5 292.3,392.5 292.3,395.6 295.1,395.6 295.1,398.8 298.0,398.8 298.0,401.9 300.9,401.9 300.9,405.0 305.0,405.0 305.0,418.5 307.9,418.5 307.9,420.6 310.8,420.6 310.8,422.8 313.6,422.8 313.6,424.9 316.5,424.9 316.5,427.0 320.7,427.0 320.7,444.6 324.1,444.6 324.1,448.1 327.6,448.1 327.6,451.5 331.0,451.5 331.0,455.0 336.2,455.0 336.2,457.5 341.5,457.5 341.5,460.0 346.7,460.0 346.7,466.7 362.0,466.7 362.0,468.1 377.2,468.1 377.2,469.4 392.5,469.4 392.5,470.8 396.6,470.8 396.6,476.0 400.8,476.0 400.8,481.2 442.5,481.2 442.5,482.3 444.6,482.3 444.6,487.5 461.0,487.5 461.0,491.6 472.0,491.6 472.0,498.8 492.0,498.8 492.0,502.4 494.5,502.4 494.5,506.0 1004.0,506.0 1004.0,506.0 1006.0,506.0 1006.0,512.0 1322.6,512.0 1322.6,512.0 1324.4,512.0 1324.4,517.0 1371.3,517.0 1371.3,517.7 1371.3,517.7 1371.3,524.2 1459.6,524.2 1459.6,524.2 1461.4,524.2 1461.4,529.6 1620.0,529.6 1620.0,529.8 1620.7,529.8 1620.7,536.3 1677.6,536.3 1677.6,536.3" fill="none" stroke="#9451b0" stroke-width="3"/>
<path d="M257.0,253.0 257.0,253.0 257.0,276.0 261.2,276.0 261.2,276.0 262.0,276.0 262.0,293.0 265.2,293.0 265.2,293.0 266.0,293.0 266.0,333.0 269.6,333.0 269.6,356.0 273.8,356.0 273.8,382.0 276.9,382.0 276.9,396.7 280.0,396.7 280.0,413.3 282.8,413.3 282.8,416.8 285.6,416.8 285.6,420.3 288.4,420.3 288.4,423.8 292.0,423.8 292.0,427.9 295.7,427.9 295.7,432.0 299.8,432.0 299.8,440.4 304.0,440.4 304.0,460.0 307.4,460.0 307.4,465.8 310.8,465.8 310.8,471.6 314.1,471.6 314.1,477.5 317.5,477.5 317.5,483.3 319.6,483.3 319.6,493.8 322.7,493.8 322.7,495.8 325.8,495.8 325.8,497.8 329.0,497.8 329.0,499.9 332.1,499.9 332.1,501.9 335.2,501.9 335.2,504.0 338.3,504.0 338.3,506.0 344.6,506.0 344.6,512.5 349.8,512.5 349.8,514.1 355.0,514.1 355.0,515.6 360.2,515.6 360.2,517.2 365.4,517.2 365.4,518.8 367.5,518.8 367.5,525.0 372.1,525.0 372.1,526.2 376.7,526.2 376.7,527.5 381.2,527.5 381.2,528.8 385.8,528.8 385.8,530.0 390.4,530.0 390.4,531.2 394.6,531.2 394.6,535.4 398.8,535.4 398.8,539.6 400.8,539.6 400.8,550.0 407.4,550.0 407.4,551.2 414.1,551.2 414.1,552.4 420.7,552.4 420.7,553.6 427.4,553.6 427.4,554.8 434.0,554.8 434.0,556.0 475.0,556.0 475.0,558.3 479.0,558.3 479.0,560.0 490.0,560.0 490.0,569.0 494.5,569.0 494.5,576.3 537.0,576.3 537.0,576.3 540.6,576.3 540.6,583.5 573.0,583.5 573.0,587.0 576.7,587.0 576.7,592.5 616.0,592.5 616.0,598.0 620.0,598.0 620.0,605.0 652.4,605.0 652.4,607.0 656.0,607.0 656.0,610.0 712.5,610.0 712.5,613.7 737.7,613.7 737.7,617.3 759.3,617.3 759.3,621.0 820.6,621.0 820.6,633.5 844.0,633.5 844.0,640.8 853.0,640.8 853.0,646.0 874.7,646.0 874.7,651.6 885.5,651.6 885.5,655.2 954.0,655.2 954.0,658.8 957.0,658.8 957.0,660.0 989.7,660.0 989.7,663.5 1022.0,663.5 1022.0,669.0 1040.0,669.0 1040.0,672.6 1090.6,672.6 1090.6,678.0 1144.7,678.0 1144.7,681.6 1148.0,681.6 1148.0,686.5 1241.5,686.5 1241.5,686.5 1243.3,686.5 1243.3,693.7 1265.0,693.7 1265.0,697.3 1266.7,697.3 1266.7,702.0 1293.8,702.0 1293.8,702.7 1297.4,702.7 1297.4,710.0 1304.6,710.0 1304.6,715.3 1362.3,715.3 1362.3,717.0 1364.0,717.0 1364.0,719.7 1407.3,719.7 1407.3,720.7 1412.7,720.7 1412.7,728.0 1468.5,728.0 1468.5,728.0 1472.0,728.0 1472.0,732.5 1479.3,732.5 1479.3,737.0 1519.0,737.0 1519.0,737.0 1520.8,737.0 1520.8,741.8 1526.2,741.8 1526.2,745.4 1584.0,745.4 1584.0,746.0 1585.7,746.0 1585.7,749.8 1627.0,749.8 1627.0,750.5 1630.8,750.5 1630.8,755.2 1638.0,755.2 1638.0,758.8 1663.2,758.8 1663.2,760.0 1665.0,760.0 1665.0,763.5 1677.6,763.5 1677.6,763.5" fill="none" stroke="#e0201f" stroke-width="3"/>
</g>

<!-- big text -->
<g fill="#d42a2f">
<text transform="matrix(1.0124 0 0 1 349.63 851.70)" font-size="103.5" font-weight="bold">2</text>
<text transform="matrix(0.9644 0 0 1 408.30 851.70)" font-size="103.5" font-weight="bold">x</text>
<text transform="matrix(1.0196 0 0 1 627.86 851.70)" font-size="103.5" font-weight="bold">y</text>
<text transform="matrix(1.0462 0 0 1 737.45 851.70)" font-size="103.5" font-weight="bold">m</text>
<text transform="matrix(1.0260 0 0 1 830.76 851.70)" font-size="103.5" font-weight="bold">o</text>
<text transform="matrix(1.1293 0 0 1 889.29 851.70)" font-size="103.5" font-weight="bold">r</text>
<text transform="matrix(1.2038 0 0 1 932.00 851.70)" font-size="103.5" font-weight="bold">t</text>
<text transform="matrix(0.9951 0 0 1 976.01 851.70)" font-size="103.5" font-weight="bold">a</text>
<text transform="matrix(1.0579 0 0 1 1032.54 851.70)" font-size="103.5" font-weight="bold">l</text>
<text transform="matrix(1.1989 0 0 1 1055.81 851.70)" font-size="103.5" font-weight="bold">i</text>
<text transform="matrix(1.1632 0 0 1 1084.76 851.70)" font-size="103.5" font-weight="bold">t</text>
<text transform="matrix(1.0712 0 0 1 1123.31 851.70)" font-size="103.5" font-weight="bold">y</text>
<rect x="689.7" y="814.6" width="46.9" height="11.4"/>
<path d="M605.5 781 L622.3 781 L622.3 851.7 L605.5 851.7 L605.5 807.5 C600 807.5 595 807.5 589.6 807.5 L589.6 796 C598 795 604 790 605.5 781 Z"/>
<path d="M518.9 778.2 L533 778.2 L563.8 810 L555.9 818.3 L533 797.2 L533 858.8 L518.9 858.8 L518.9 797.2 L495.5 818.3 L487.6 810 Z"/>
</g>

<!-- annotation block -->
<g font-size="24.3">
<text x="282" y="945" font-weight="bold" fill="#262626" textLength="243" lengthAdjust="spacingAndGlyphs">1 – year mortality :</text>
<text x="282" y="973.2" fill="#d62728" textLength="201.5" lengthAdjust="spacingAndGlyphs">STEMI-equivalent</text>
<text x="501.5" y="973.2" fill="#262626" textLength="29.5" lengthAdjust="spacingAndGlyphs">vs.</text>
<text x="546" y="973.2" fill="#9b59b6" textLength="158" lengthAdjust="spacingAndGlyphs">Typical STEMI</text>
<text x="282" y="1000.9" fill="#d62728" textLength="201.5" lengthAdjust="spacingAndGlyphs">STEMI-equivalent</text>
<text x="501.5" y="1000.9" fill="#262626" textLength="29.5" lengthAdjust="spacingAndGlyphs">vs.</text>
<text x="546" y="1000.9" fill="#3b7fc0" textLength="87" lengthAdjust="spacingAndGlyphs">NSTEMI</text>
<text x="327" y="1028.6" fill="#9b59b6" textLength="157" lengthAdjust="spacingAndGlyphs">Typical STEMI</text>
<text x="501.5" y="1028.6" fill="#262626" textLength="29.5" lengthAdjust="spacingAndGlyphs">vs.</text>
<text x="546" y="1028.6" fill="#3b7fc0" textLength="87" lengthAdjust="spacingAndGlyphs">NSTEMI</text>

<g fill="#262626">
<text x="812" y="973.2" textLength="40.5" lengthAdjust="spacingAndGlyphs">HR:</text>
<text x="860" y="973.2" font-weight="bold" textLength="54.7" lengthAdjust="spacingAndGlyphs">1.84</text>
<text x="925" y="973.2" textLength="226" lengthAdjust="spacingAndGlyphs">(CI 95%: 1.32-2.55)</text>
<text x="1160.3" y="973.2" textLength="108.7" lengthAdjust="spacingAndGlyphs">Log-rank:</text>
<text x="1278.4" y="973.2" font-weight="bold" textLength="116" lengthAdjust="spacingAndGlyphs">p &lt; 0.001</text>

<text x="810" y="1000.9" textLength="40.6" lengthAdjust="spacingAndGlyphs">HR:</text>
<text x="859" y="1000.9" font-weight="bold" textLength="55" lengthAdjust="spacingAndGlyphs">2.35</text>
<text x="923" y="1000.9" textLength="226" lengthAdjust="spacingAndGlyphs">(CI 95%: 1.83-3.02)</text>
<text x="1158.3" y="1000.9" textLength="109" lengthAdjust="spacingAndGlyphs">Log-rank:</text>
<text x="1276.4" y="1000.9" font-weight="bold" textLength="117.4" lengthAdjust="spacingAndGlyphs">p &lt; 0.001</text>

<text x="814" y="1028.6" textLength="39.3" lengthAdjust="spacingAndGlyphs">HR:</text>
<text x="863.4" y="1028.6" font-weight="bold" textLength="53" lengthAdjust="spacingAndGlyphs">1.27</text>
<text x="926.5" y="1028.6" textLength="224.4" lengthAdjust="spacingAndGlyphs">(CI 95%: 0.92-1.77)</text>
<text x="1159.3" y="1028.6" textLength="109" lengthAdjust="spacingAndGlyphs">Log-rank:</text>
<text x="1278.4" y="1028.6" font-weight="bold" textLength="100.2" lengthAdjust="spacingAndGlyphs">p = 0.15</text>
</g>
</g>

<!-- gridlines -->
<g stroke="#a2a2a2" stroke-width="1.5" stroke-dasharray="3 2.4">
<line x1="257.5" y1="199" x2="257.5" y2="1082"/>
<line x1="494" y1="199" x2="494" y2="1082"/>
<line x1="731" y1="199" x2="731" y2="1082"/>
<line x1="967.5" y1="199" x2="967.5" y2="1082"/>
<line x1="1205" y1="199" x2="1205" y2="1082"/>
<line x1="1441.5" y1="199" x2="1441.5" y2="1082"/>
</g>

<!-- frame -->
<rect x="245.5" y="198" width="1432.5" height="885.5" fill="none" stroke="#222" stroke-width="2.6"/>

<!-- legend -->
<rect x="1182.5" y="214.5" width="478.5" height="149.5" rx="4" fill="#f5f5f5" stroke="#d6d6d6" stroke-width="1.3"/>
<g stroke-width="3">
<line x1="1194" y1="240" x2="1260" y2="240" stroke="#3a7dba"/>
<line x1="1194" y1="286.5" x2="1260" y2="286.5" stroke="#9451b0"/>
<line x1="1194" y1="333" x2="1260" y2="333" stroke="#e0201f"/>
</g>
<g font-size="33.5">
<text x="1285" y="251.3" fill="#262626" textLength="117.4" lengthAdjust="spacingAndGlyphs">NSTEMI</text>
<text x="1418" y="251.3" fill="#262626" textLength="103" lengthAdjust="spacingAndGlyphs">(1535)</text>
<text x="1286.5" y="297" fill="#9b59b6" textLength="212.5" lengthAdjust="spacingAndGlyphs">Typical STEMI</text>
<text x="1519" y="297" fill="#262626" textLength="84" lengthAdjust="spacingAndGlyphs">(507)</text>
<text x="1287" y="344.6" fill="#d62728" textLength="268" lengthAdjust="spacingAndGlyphs">STEMI-equivalent</text>
<text x="1566" y="344.6" fill="#262626" textLength="83" lengthAdjust="spacingAndGlyphs">(685)</text>
</g>

<!-- y ticks -->
<g font-size="24" fill="#262626" text-anchor="end">
<text x="224" y="263" textLength="49.5" lengthAdjust="spacingAndGlyphs">1.00</text>
<text x="224" y="401.3" textLength="49.5" lengthAdjust="spacingAndGlyphs">0.95</text>
<text x="224" y="539.7" textLength="49.5" lengthAdjust="spacingAndGlyphs">0.90</text>
<text x="224" y="678" textLength="49.5" lengthAdjust="spacingAndGlyphs">0.85</text>
<text x="224" y="816.3" textLength="49.5" lengthAdjust="spacingAndGlyphs">0.80</text>
<text x="224" y="954.7" textLength="49.5" lengthAdjust="spacingAndGlyphs">0.75</text>
<text x="224" y="1093" textLength="49.5" lengthAdjust="spacingAndGlyphs">0.70</text>
</g>
<!-- x ticks -->
<g font-size="24" fill="#262626" text-anchor="middle" clip-path="url(#fig)">
<text x="257" y="1122">0</text>
<text x="494" y="1122">2</text>
<text x="731" y="1122">4</text>
<text x="967.5" y="1122">6</text>
<text x="1204" y="1122">8</text>
<text x="1441" y="1122">10</text>
<text x="1678" y="1122">12</text>
</g>
<text x="726" y="1154" font-size="25" fill="#262626" textLength="471" lengthAdjust="spacingAndGlyphs">Time after index ACS event (months)</text>
<text transform="translate(159.7 763) rotate(-90)" x="0" y="0" font-size="25" fill="#262626" textLength="244" lengthAdjust="spacingAndGlyphs">Survival probability</text>
</svg>
</body></html>
